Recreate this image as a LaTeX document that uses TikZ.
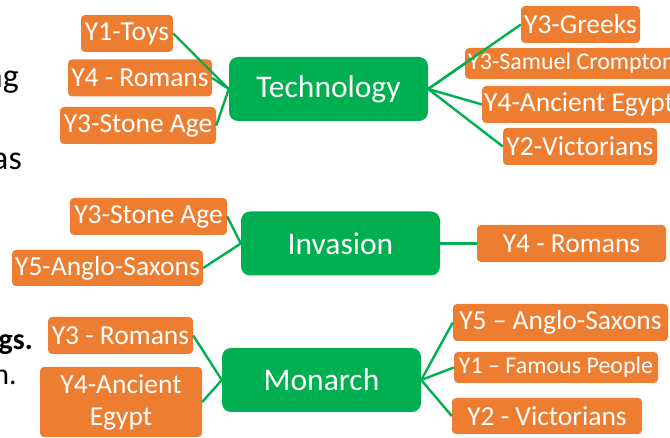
\documentclass[tikz,border=0pt]{standalone}
\usepackage{fontspec}
\setmainfont{Carlito}
\usepackage{tikz}
\definecolor{topicgreen}{RGB}{0,176,80}
\definecolor{unitorange}{RGB}{237,125,49}

\begin{document}
\begin{tikzpicture}[x=1pt,y=-1pt]
      \tikzstyle{topic}=[rectangle,rounded corners=9pt,fill=topicgreen,text=white,minimum width=199pt,minimum height=64pt,font=\fontsize{31.5}{36}\selectfont]
      \tikzstyle{unit}=[rectangle,rounded corners=4pt,fill=unitorange,text=white,inner xsep=3pt,inner ysep=0pt,minimum height=37pt,font=\fontsize{27.5}{32}\selectfont]
      \tikzstyle{small}=[minimum height=31pt,font=\fontsize{24}{28}\selectfont]
      \tikzstyle{link}=[draw=topicgreen,line width=2.4pt]
      \tikzstyle{cut}=[anchor=base east,inner sep=0pt,font=\fontsize{34}{40}\selectfont]
      \useasboundingbox (0,0) rectangle (670,438);
      \clip (0,0) rectangle (670,438);
      \node[cut] (fragA) at (19,88) {ng};
      \node[cut] (fragB) at (22,170) {as};
      \node[cut,font={\fontsize{30}{36}\selectfont\bfseries}] (fragC) at (33,350) {gs.};
      \node[cut,font={\fontsize{30}{36}\selectfont}] (fragD) at (17,385) {n.};
      \node[topic] (tech) at (328.5,89) {Technology};
      \node[topic] (inv) at (340.5,243.5) {Invasion};
      \node[topic] (mon) at (321.5,380) {Monarch};
      \node[unit,minimum width=92pt] (toys) at (127,33.5) {Y1-Toys};
      \node[unit,minimum width=144pt] (romansA) at (140,78) {Y4 - Romans};
      \node[unit,minimum width=156pt] (stoneA) at (138,125.5) {Y3-Stone Age};
      \node[unit,minimum width=119pt] (greeks) at (580.5,24.5) {Y3-Greeks};
      \node[unit,small,anchor=west] (crompton) at (465,63.5) {Y3-Samuel Crompton};
      \node[unit,anchor=west,inner xsep=2pt] (egyptA) at (482,104.5) {Y4-Ancient Egypt};
      \node[unit,minimum width=154pt] (victA) at (580,146.5) {Y2-Victorians};
      \node[unit,minimum width=157pt] (stoneB) at (148.5,216.5) {Y3-Stone Age};
      \node[unit,minimum width=191pt,minimum height=36pt] (saxonsB) at (107.5,268) {Y5-Anglo-Saxons};
      \node[unit,minimum width=189pt] (romansB) at (571.5,243.5) {Y4 - Romans};
      \node[unit,minimum width=145pt] (romansC) at (120.5,335.5) {Y3 - Romans};
      \node[unit,minimum width=162pt,minimum height=70pt,align=center] (egyptC) at (121,402) {Y4-Ancient\\Egypt};
      \node[unit,minimum width=215pt] (saxonsC) at (560.5,322.5) {Y5 – Anglo-Saxons};
      \node[unit,small,minimum width=204pt] (famous) at (556,367.5) {Y1 – Famous People};
      \node[unit,minimum width=190pt,minimum height=36pt] (victC) at (547,416) {Y2 - Victorians};
      \draw[link] (tech.west) -- (toys.east);
      \draw[link] (tech.west) -- (romansA.east);
      \draw[link] (tech.west) -- (stoneA.east);
      \draw[link] (tech.east) -- (greeks.west);
      \draw[link] (tech.east) -- (crompton.west);
      \draw[link] (tech.east) -- (egyptA.west);
      \draw[link] (tech.east) -- (victA.west);
      \draw[link] (inv.west) -- (stoneB.east);
      \draw[link] (inv.west) -- (saxonsB.east);
      \draw[link] (inv.east) -- (romansB.west);
      \draw[link] (mon.west) -- (romansC.east);
      \draw[link] (mon.west) -- (egyptC.east);
      \draw[link] (mon.east) -- (saxonsC.west);
      \draw[link] (mon.east) -- (famous.west);
      \draw[link] (mon.east) -- (victC.west);
\end{tikzpicture}
\end{document}
